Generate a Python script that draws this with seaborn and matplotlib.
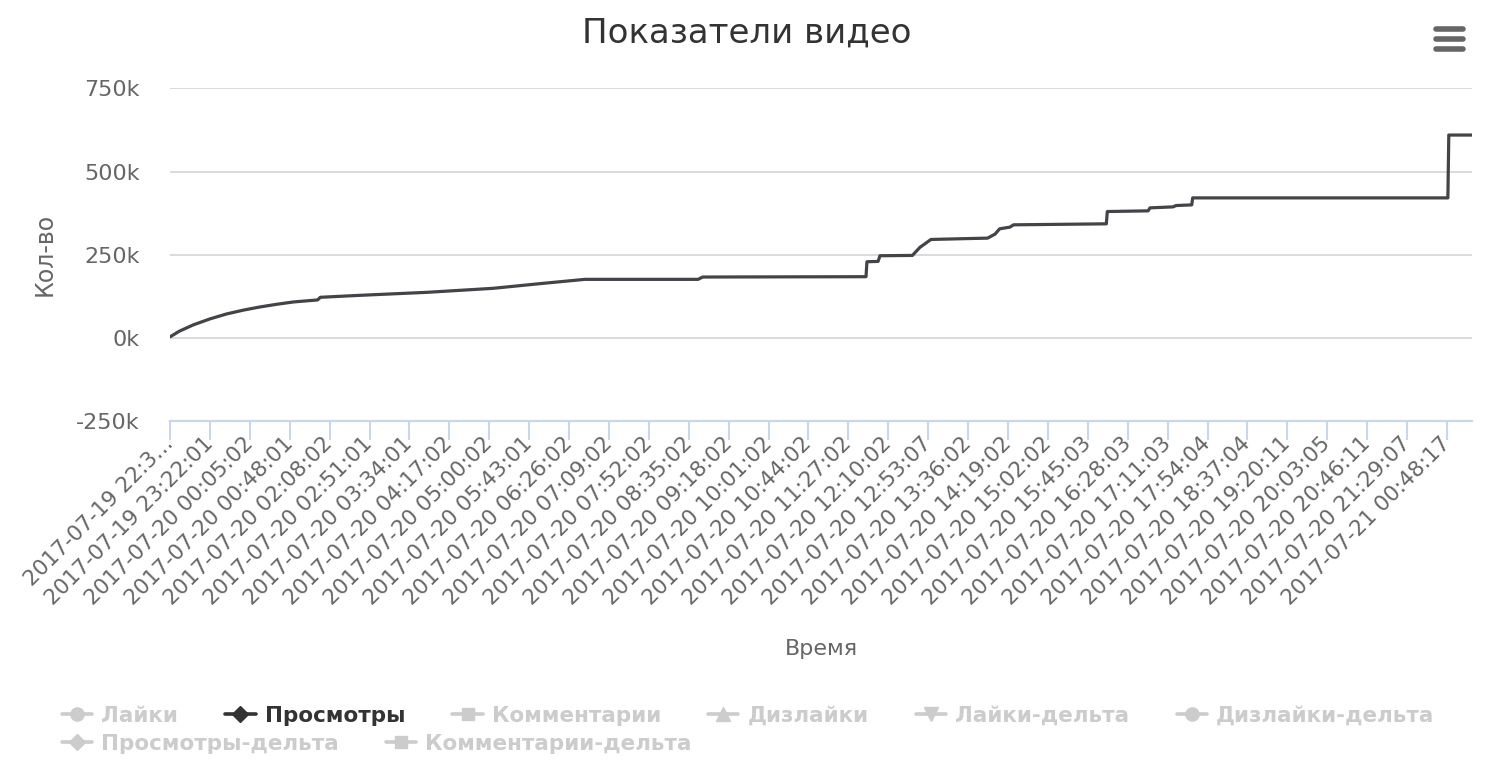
import numpy as np
import pandas as pd
import seaborn as sns
import matplotlib.pyplot as plt
from matplotlib.lines import Line2D
from matplotlib.ticker import FuncFormatter

#%% data (x = category index, one category per sample)
view_idx = [0, 10, 25, 43, 61, 80, 97, 115, 133, 150, 159, 162, 205, 277, 348,
            402, 447, 569, 574, 750, 751, 763, 765, 800, 808, 820, 881, 889,
            894, 905, 909, 1009, 1010, 1054, 1056, 1081, 1084, 1101, 1102,
            1377, 1378, 1403]
views = [3000, 20000, 39000, 57000, 72000, 84000, 93000, 101000, 108000,
         112000, 114000, 122000, 128000, 137000, 149000, 164000, 176000,
         176000, 183000, 184000, 229000, 230000, 247000, 248000, 272000,
         296000, 300000, 312000, 328000, 333000, 340000, 343000, 380000,
         382000, 391000, 394000, 398000, 400000, 421000, 421000, 610000,
         610000]

tick_step = 43
tick_labels = ["2017-07-19 22:3…", "2017-07-19 23:22:01", "2017-07-20 00:05:02",
               "2017-07-20 00:48:01", "2017-07-20 02:08:02", "2017-07-20 02:51:01",
               "2017-07-20 03:34:01", "2017-07-20 04:17:02", "2017-07-20 05:00:02",
               "2017-07-20 05:43:01", "2017-07-20 06:26:02", "2017-07-20 07:09:02",
               "2017-07-20 07:52:02", "2017-07-20 08:35:02", "2017-07-20 09:18:02",
               "2017-07-20 10:01:02", "2017-07-20 10:44:02", "2017-07-20 11:27:02",
               "2017-07-20 12:10:02", "2017-07-20 12:53:07", "2017-07-20 13:36:02",
               "2017-07-20 14:19:02", "2017-07-20 15:02:02", "2017-07-20 15:45:03",
               "2017-07-20 16:28:03", "2017-07-20 17:11:03", "2017-07-20 17:54:04",
               "2017-07-20 18:37:04", "2017-07-20 19:20:11", "2017-07-20 20:03:05",
               "2017-07-20 20:46:11", "2017-07-20 21:29:07", "2017-07-21 00:48:17"]
y_ticks = [-250000, 0, 250000, 500000, 750000]

series_names = ["Лайки", "Просмотры", "Комментарии", "Дизлайки", "Лайки-дельта",
                "Дизлайки-дельта", "Просмотры-дельта", "Комментарии-дельта"]
series_markers = ["o", "D", "s", "^", "v", "o", "D", "s"]
series_visible = [False, True, False, False, False, False, False, False]

#%%
sns.set_theme(style="white")
plt.rcParams['font.family'] = ['DejaVu Sans']

df = pd.DataFrame({"idx": view_idx, "views": views})

fig = plt.figure(figsize=(14.92, 7.68), dpi=100)
ax = fig.add_axes([170/1492, 1-421/768, 1302/1492, 333/768])

sns.lineplot(data=df, x="idx", y="views", color="#434348", linewidth=2.3, ax=ax)

ax.set_xlim(0, 1403)
ax.set_ylim(-250000, 751500)
ax.set_yticks(y_ticks)
ax.yaxis.set_major_formatter(FuncFormatter(lambda v, p: f"{int(v/1000)}k"))
ax.grid(axis="y", color="#dadada", linewidth=1.4)
ax.grid(axis="x", visible=False)

for s in ["top", "right", "left"]:
    ax.spines[s].set_visible(False)
ax.spines["bottom"].set_color("#ccd6eb")
ax.spines["bottom"].set_linewidth(1.6)

ax.set_xticks([i * tick_step for i in range(len(tick_labels))])
ax.set_xticklabels(tick_labels)
ax.tick_params(axis="x", direction="out", length=14, width=1.5, color="#ccd6eb",
               labelsize=15.5, labelcolor="#666666", pad=0, bottom=True)
ax.tick_params(axis="y", length=0, labelsize=16, labelcolor="#666666", pad=22)
plt.setp(ax.get_xticklabels(), rotation=45, ha="right", va="center",
         rotation_mode="anchor")

ax.set_xlabel("Время", fontsize=16, color="#666666")
ax.set_ylabel("Кол-во", fontsize=17, color="#666666")
ax.xaxis.set_label_coords(0.5, -0.655)
ax.yaxis.set_label_coords(-0.087, 0.5)

fig.text(747/1492, 1-33/768, "Показатели видео", ha="center", va="center",
         fontsize=24.5, color="#333333")

# export menu icon
for yy in [29, 39, 49]:
    fig.add_artist(Line2D([1436/1492, 1463/1492], [1-yy/768, 1-yy/768],
                          transform=fig.transFigure, lw=4, color="#666666",
                          solid_capstyle="round"))

# legend (hidden series in grey)
handles = []
colors = []
for name, m, vis in zip(series_names, series_markers, series_visible):
    c = "#333333" if vis else "#cccccc"
    ms = 8 if m in ("D", "s") else 9.5
    handles.append(Line2D([0], [0], color=c, marker=m, markersize=ms, lw=2.6))
    colors.append(c)

rows = [(0, 6, 716), (6, 8, 744)]
for a, b, yy in rows:
    leg = fig.legend(handles[a:b], series_names[a:b], ncol=b - a, loc="center left",
                     bbox_to_anchor=(62/1492, 1-yy/768), frameon=False,
                     prop={"weight": "bold", "size": 15.5}, handlelength=1.4,
                     handletextpad=0.42, columnspacing=2.2, borderpad=0,
                     borderaxespad=0)
    for t, c in zip(leg.get_texts(), colors[a:b]):
        t.set_color(c)

fig.savefig("out.png", dpi=100)
